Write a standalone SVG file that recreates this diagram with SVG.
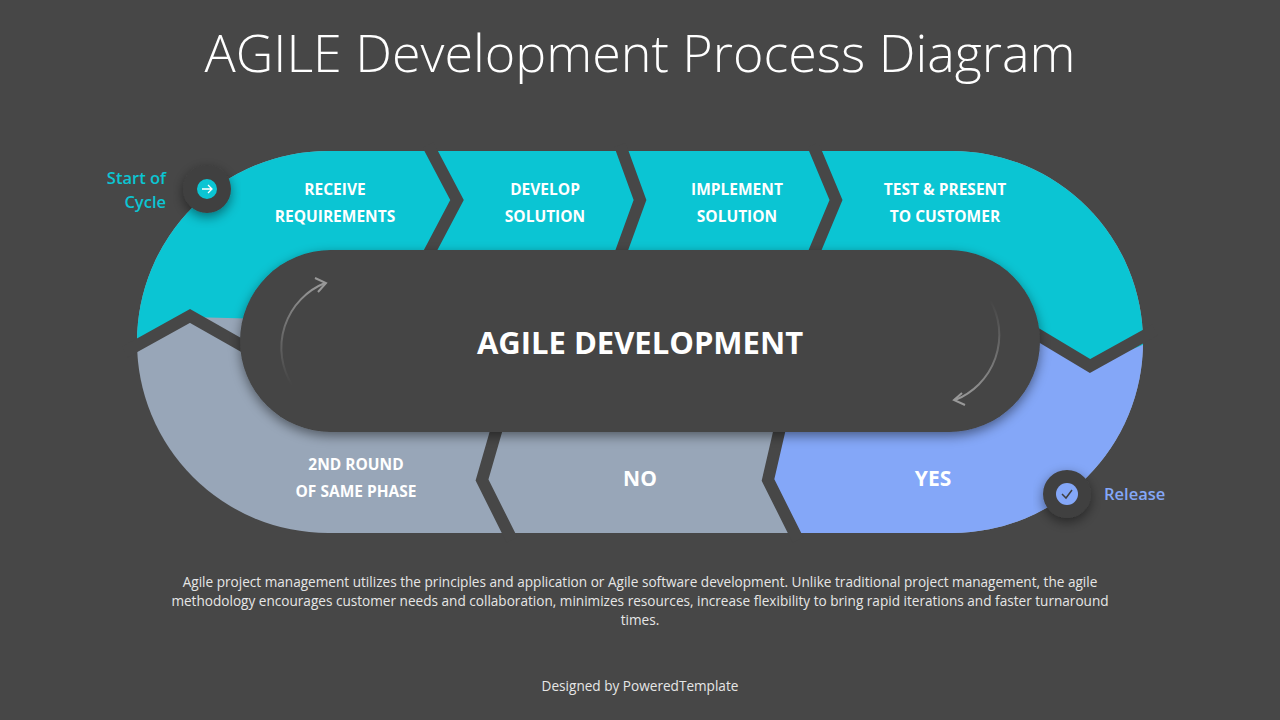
<svg xmlns="http://www.w3.org/2000/svg" width="1280" height="720" viewBox="0 0 1280 720">
<defs>
<style>
.lbl{font-family:"Open Sans","Liberation Sans",sans-serif;font-weight:700;fill:#fff;text-anchor:middle}
.sm{font-size:15.5px}
.gap{fill:none;stroke:#474747;stroke-width:12;stroke-linejoin:miter}
.para{font-family:"Open Sans","Liberation Sans",sans-serif;font-size:13.6px;fill:#e6e6e6;text-anchor:middle}
</style>
<clipPath id="band"><path d="M328,151 H952 A191,191 0 0 1 952,533 H328 A191,191 0 0 1 328,151 Z"/></clipPath>
<filter id="sh" x="-20%" y="-20%" width="140%" height="150%"><feDropShadow dx="0" dy="4" stdDeviation="6" flood-color="#000" flood-opacity="0.45"/></filter>
<linearGradient id="gl" x1="0" y1="1" x2="0" y2="0"><stop offset="0" stop-color="#888" stop-opacity="0"/><stop offset="1" stop-color="#999"/></linearGradient>
<linearGradient id="gr" x1="0" y1="0" x2="0" y2="1"><stop offset="0" stop-color="#888" stop-opacity="0"/><stop offset="1" stop-color="#999"/></linearGradient>
</defs>
<rect width="1280" height="720" fill="#474747"/>
<text x="640" y="72" font-family="'Open Sans','Liberation Sans',sans-serif" font-weight="300" font-size="52" fill="#fff" text-anchor="middle">AGILE Development Process Diagram</text>
<g clip-path="url(#band)">
<rect x="130" y="140" width="1030" height="400" fill="#98A6B8"/>
<polygon points="130,140 1160,140 1160,338 1090,367 1040,340 190,317 130,345" fill="#0BC5D3"/>
<polygon points="1160,338 1090,367 1040,340 780,340 778,432 768,480 798,540 1160,540" fill="#84A7F8"/>
</g>
<g id="connectors">
<polyline class="gap" points="428,145 457,200 428,255"/>
<polyline class="gap" points="620,145 640,200 620,255"/>
<polyline class="gap" points="813,145 836,200 813,255"/>
<polyline class="gap" points="1030,330 1090,366 1155,330"/>
<polyline class="gap" points="125,352 190,316 250,350"/>
<polyline class="gap" points="497,428 482,480 512,540"/>
<polyline class="gap" points="780,428 768,480 798,540"/>
</g>
<g id="center">
<rect x="240" y="250" width="800" height="182" rx="91" fill="#444" filter="url(#sh)"/>
<path d="M292,385 A70,70 0 0 1 325,283" fill="none" stroke="url(#gl)" stroke-width="2"/>
<polyline points="315,278 326,283 318,292" fill="none" stroke="#999" stroke-width="2"/>
<path d="M990,300 A70,70 0 0 1 955,400" fill="none" stroke="url(#gr)" stroke-width="2"/>
<polyline points="962,393 954,400 965,405" fill="none" stroke="#999" stroke-width="2"/>
<text class="lbl" x="640" y="354" font-size="31">AGILE DEVELOPMENT</text>
</g>
<g id="n1"><text class="lbl sm" x="335" y="195">RECEIVE</text><text class="lbl sm" x="335" y="222">REQUIREMENTS</text></g>
<g id="n2"><text class="lbl sm" x="545" y="195">DEVELOP</text><text class="lbl sm" x="545" y="222">SOLUTION</text></g>
<g id="n3"><text class="lbl sm" x="737" y="195">IMPLEMENT</text><text class="lbl sm" x="737" y="222">SOLUTION</text></g>
<g id="n4"><text class="lbl sm" x="945" y="195">TEST &amp; PRESENT</text><text class="lbl sm" x="945" y="222">TO CUSTOMER</text></g>
<g id="n5"><text class="lbl sm" x="356" y="470">2ND ROUND</text><text class="lbl sm" x="356" y="497">OF SAME PHASE</text></g>
<g id="n6"><text class="lbl" x="640" y="486" font-size="21">NO</text></g>
<g id="n7"><text class="lbl" x="933" y="486" font-size="21">YES</text></g>
<g id="start">
<circle cx="207" cy="189" r="24" fill="#404040" filter="url(#sh)"/>
<circle cx="207" cy="189" r="10" fill="#0BC5D3"/>
<path d="M202,189 H212 M208,185 L212,189 L208,193" fill="none" stroke="#fff" stroke-width="1.3"/>
<text x="166" y="184" font-family="'Open Sans','Liberation Sans',sans-serif" font-weight="600" font-size="16.5" fill="#0BC5D3" text-anchor="end">Start of</text>
<text x="166" y="208" font-family="'Open Sans','Liberation Sans',sans-serif" font-weight="600" font-size="16.5" fill="#0BC5D3" text-anchor="end">Cycle</text>
</g>
<g id="release">
<circle cx="1067" cy="494" r="24" fill="#404040" filter="url(#sh)"/>
<circle cx="1067" cy="494" r="11" fill="#84A7F8"/>
<path d="M1062,494 L1066,498 L1072,490" fill="none" stroke="#404040" stroke-width="1.5"/>
<text x="1104" y="500" font-family="'Open Sans','Liberation Sans',sans-serif" font-weight="600" font-size="16.5" fill="#84A7F8">Release</text>
</g>
<text class="para" x="640" y="587">Agile project management utilizes the principles and application or Agile software development. Unlike traditional project management, the agile</text>
<text class="para" x="640" y="606">methodology  encourages customer needs and collaboration, minimizes resources, increase flexibility to bring rapid iterations and faster turnaround</text>
<text class="para" x="640" y="625">times.</text>
<text class="para" x="640" y="691" fill="#ccc">Designed by PoweredTemplate</text>
</svg>
